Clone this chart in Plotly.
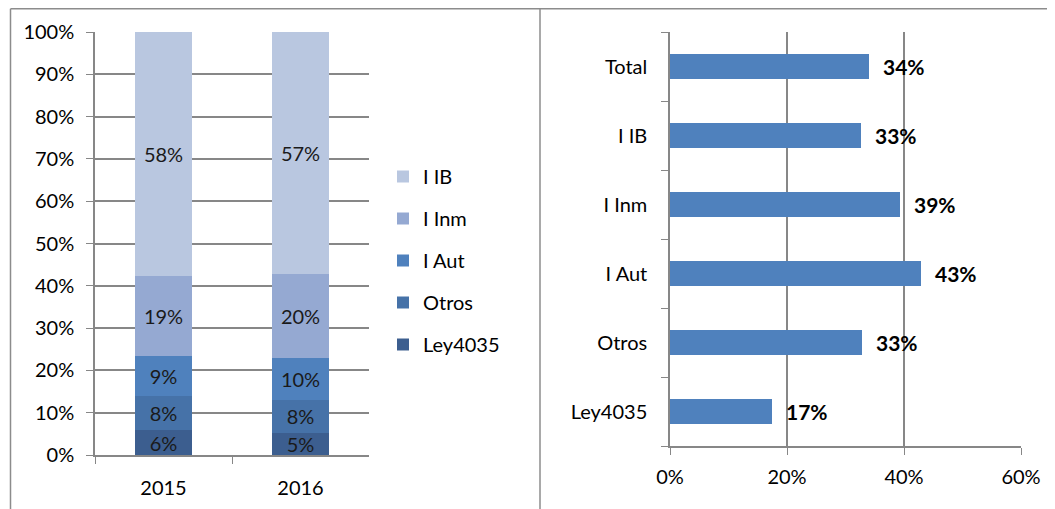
import plotly.graph_objects as go

# left chart: stacked shares per year (percent)
years = ["2015", "2016"]
stack_names = ["Ley4035", "Otros", "I Aut", "I Inm", "I IB"]
stack_values = {
    "Ley4035": [5.8, 5.3],
    "Otros": [8.2, 7.8],
    "I Aut": [9.4, 9.9],
    "I Inm": [19.0, 19.7],
    "I IB": [57.6, 57.3],
}
stack_colors = {
    "Ley4035": "#3c5e8f",
    "Otros": "#4672a8",
    "I Aut": "#4f81bd",
    "I Inm": "#95a9d2",
    "I IB": "#b9c7e0",
}

# right chart: horizontal bars (percent)
bar_cats = ["Ley4035", "Otros", "I Aut", "I Inm", "I IB", "Total"]
bar_values = [17.4, 32.8, 42.9, 39.4, 32.6, 34.0]

FONT = "Lato"
FS = 20
GRID = "#878787"
W, H = 1055, 509
OFF = 8  # page offset of the plot div


def xp(px):
    return (px - OFF) / W


def yp(py):
    return 1 - (py - OFF) / H


fig = go.Figure()

for i, name in enumerate(stack_names):
    fig.add_trace(
        go.Bar(
            x=years,
            y=stack_values[name],
            name=name,
            marker=dict(color=stack_colors[name], line=dict(width=0)),
            width=0.41,
            text=[f"{v:.0f}%" for v in stack_values[name]],
            textposition="inside",
            insidetextanchor="middle",
            textangle=0,
            constraintext="none",
            textfont=dict(family=FONT, size=FS, color="#1a1a1a"),
            legendgroup=name,
            legendrank=len(stack_names) - i,
            xaxis="x",
            yaxis="y",
        )
    )

fig.add_trace(
    go.Bar(
        x=bar_values,
        y=bar_cats,
        orientation="h",
        marker=dict(color="#4f81bd", line=dict(width=0)),
        width=0.37,
        showlegend=False,
        xaxis="x2",
        yaxis="y2",
    )
)

for v, c in zip(bar_values, bar_cats):
    fig.add_annotation(
        x=v,
        y=c,
        xref="x2",
        yref="y2",
        text=f"<b>{v:.0f}%</b>",
        showarrow=False,
        xanchor="left",
        xshift=12,
        font=dict(family=FONT, size=21, color="black"),
    )

# chart frames
frame = dict(color="#8c8c8c", width=1.5)
top = 1 - 0.75 / H
fig.add_shape(type="line", xref="paper", yref="paper",
              x0=xp(10.5), x1=xp(10.5), y0=top, y1=0, line=frame)
fig.add_shape(type="line", xref="paper", yref="paper",
              x0=xp(10.5), x1=1, y0=top, y1=top, line=frame)
fig.add_shape(type="line", xref="paper", yref="paper",
              x0=xp(540), x1=xp(540), y0=top, y1=0, line=frame)

axis_common = dict(
    automargin=False,
    showline=True,
    linecolor=GRID,
    linewidth=1.5,
    ticks="outside",
    ticklen=7,
    tickcolor=GRID,
    tickfont=dict(family=FONT, size=FS, color="black"),
    zeroline=False,
)

fig.update_layout(
    width=W,
    height=H,
    margin=dict(l=0, r=0, t=0, b=0),
    barmode="stack",
    plot_bgcolor="white",
    paper_bgcolor="white",
    font=dict(family=FONT, size=FS, color="black"),
    legend=dict(
        x=xp(383),
        y=yp(157),
        xanchor="left",
        yanchor="top",
        traceorder="grouped",
        tracegroupgap=13,
        font=dict(family=FONT, size=FS),
        itemwidth=30,
    ),
    xaxis=dict(
        domain=[xp(95), xp(369)],
        type="category",
        tickson="boundaries",
        ticklabelstandoff=14,
        showgrid=False,
        **axis_common,
    ),
    yaxis=dict(
        domain=[yp(455), yp(32)],
        range=[0, 100],
        dtick=10,
        ticksuffix="%",
        ticklabelstandoff=8,
        showgrid=True,
        gridcolor=GRID,
        gridwidth=1.5,
        **axis_common,
    ),
    xaxis2=dict(
        domain=[xp(670), xp(1021)],
        anchor="y2",
        range=[0, 60],
        dtick=20,
        ticksuffix="%",
        ticklabelstandoff=5,
        showgrid=True,
        gridcolor=GRID,
        gridwidth=1.5,
        **axis_common,
    ),
    yaxis2=dict(
        domain=[yp(446), yp(32)],
        anchor="x2",
        type="category",
        categoryorder="array",
        categoryarray=bar_cats,
        tickson="boundaries",
        ticklabelstandoff=17,
        showgrid=False,
        **axis_common,
    ),
)

fig.write_html("out.html")
